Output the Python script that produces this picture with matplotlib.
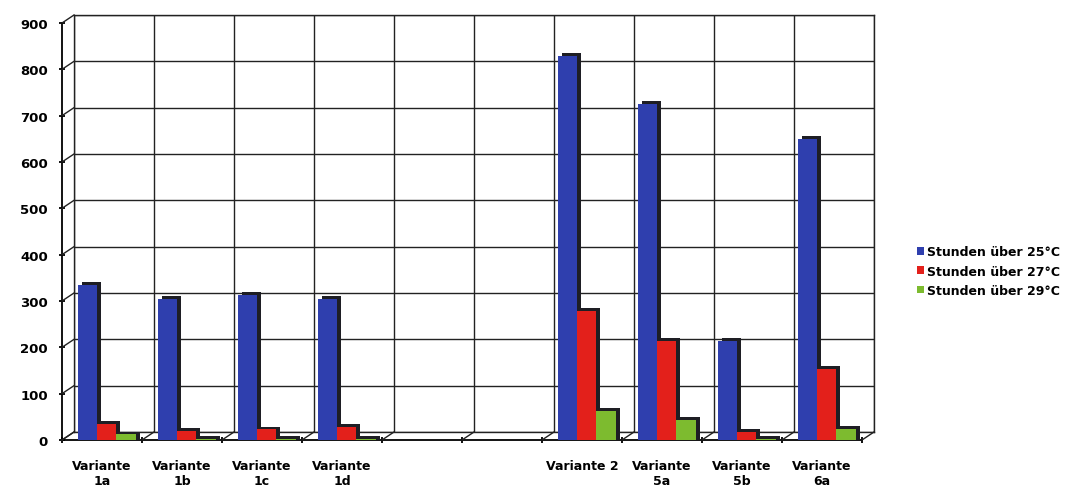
import numpy as np
import matplotlib.pyplot as plt
from matplotlib.lines import Line2D
from matplotlib.patches import Patch

categories = ['Variante\n1a', 'Variante\n1b', 'Variante\n1c', 'Variante\n1d', '', '',
              'Variante 2', 'Variante\n5a', 'Variante\n5b', 'Variante\n6a']
series_names = ['Stunden über 25°C', 'Stunden über 27°C', 'Stunden über 29°C']
h25 = [335, 305, 313, 305, np.nan, np.nan, 829, 726, 214, 650]
h27 = [35, 20, 23, 28, np.nan, np.nan, 279, 214, 17, 153]
h29 = [12, 3, 3, 2, np.nan, np.nan, 62, 43, 2, 24]
yticks = list(range(0, 1000, 100))

colors = ['#2f3fae', '#e3201b', '#7dbb2f']
side = '#1e1e24'

W, H = 1072, 489
fig = plt.figure(figsize=(W / 100, H / 100), dpi=100)
fig.patch.set_facecolor('white')

# front plane (axis, ticks, bars) and a slightly shifted back wall for the 3d look
x0, y0, x1, y1 = 62, 441, 862, 24
dx, dy = 12, 8
back = fig.add_axes([(x0 + dx) / W, (H - y0 + dy) / H, (x1 - x0) / W, (y0 - y1) / H])
ax = fig.add_axes([x0 / W, (H - y0) / H, (x1 - x0) / W, (y0 - y1) / H])

n = len(categories)
for a in (back, ax):
    a.set_xlim(-0.5, n - 0.5)
    a.set_ylim(0, 900)

back.set_xticks(np.arange(n + 1) - 0.5)
back.set_yticks(yticks)
back.grid(True, color='#222222', lw=1.0)
back.tick_params(length=0, labelleft=False, labelbottom=False)
for s in back.spines.values():
    s.set_color('#222222')
    s.set_linewidth(1.0)

ax.patch.set_alpha(0)
for s in ('top', 'right'):
    ax.spines[s].set_visible(False)
ax.spines['left'].set_linewidth(1.3)
ax.spines['bottom'].set_linewidth(1.3)
ax.set_yticks(yticks)
ax.set_yticklabels([str(v) for v in yticks], fontsize=9.5, fontweight='bold')
ax.set_xticks(np.arange(n + 1) - 0.5, minor=True)
ax.set_xticks(np.arange(n))
ax.set_xticklabels(categories, fontsize=9, fontweight='bold', linespacing=1.15)
ax.tick_params(axis='x', which='major', length=0, pad=14)
ax.tick_params(axis='x', which='minor', length=5, width=1.3, direction='inout')
ax.tick_params(axis='y', length=4, width=1.3, direction='inout', pad=8)

# floor edges between front ticks and the back wall
for t in np.arange(n + 1) - 0.5:
    xf = x0 + (t + 0.5) * (x1 - x0) / n
    fig.add_artist(Line2D([xf / W, (xf + dx) / W], [(H - y0) / H, (H - y0 + dy) / H],
                          color='#222222', lw=1.0))
for v in yticks:
    yf = y0 - v * (y0 - y1) / 900
    fig.add_artist(Line2D([x0 / W, (x0 + dx) / W], [(H - yf) / H, (H - yf + dy) / H],
                          color='#222222', lw=1.0))

width = 0.24
offsets = [-0.18, 0.06, 0.30]
depth_x, depth_y = 0.05, 6
xs = np.arange(n)
for vals, off, c in zip([h25, h27, h29], offsets, colors):
    vals = np.array(vals, dtype=float)
    ok = ~np.isnan(vals)
    ax.bar(xs[ok] + off + depth_x, vals[ok] + depth_y, width=width, color=side,
           bottom=0, zorder=3)
    ax.bar(xs[ok] + off, vals[ok], width=width, color=c, zorder=4)

handles = [Patch(facecolor=c, edgecolor='none') for c in colors]
leg = fig.legend(handles, series_names, loc='center left', bbox_to_anchor=(912 / W, 1 - 272 / H),
                 frameon=False, prop={'size': 9, 'weight': 'bold'}, borderaxespad=0,
                 handlelength=0.55, handleheight=0.55, handletextpad=0.25, labelspacing=0.5)

fig.savefig('out.png', dpi=100)
